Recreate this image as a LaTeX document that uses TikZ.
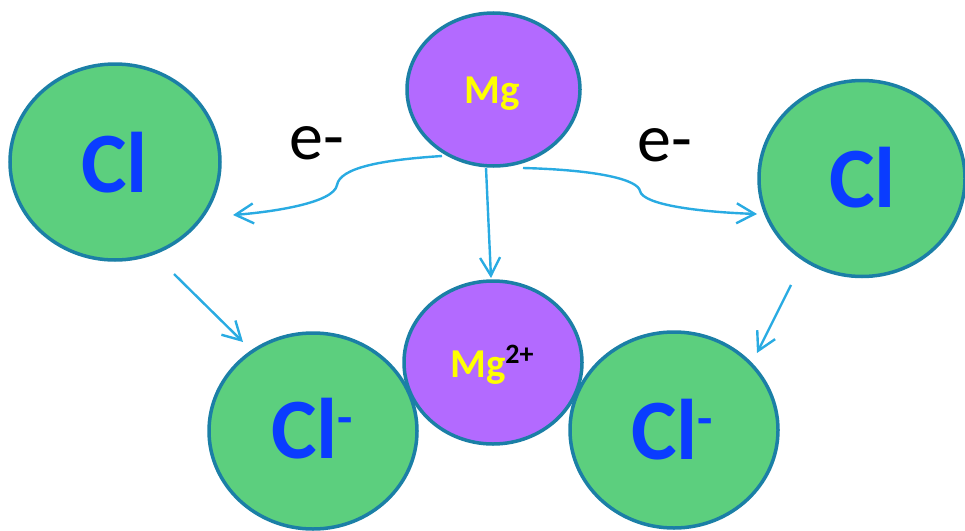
\documentclass[tikz,border=0pt]{standalone}
\usepackage{fontspec}
\setmainfont{Carlito}
\usetikzlibrary{arrows.meta,shapes.geometric}

\definecolor{atomgreen}{HTML}{5CCF7E}
\definecolor{atompurple}{HTML}{B36AFF}
\definecolor{atomrim}{HTML}{1B7FA6}
\definecolor{clblue}{HTML}{0A3CFF}
\definecolor{mgyellow}{HTML}{FFFF00}
\definecolor{flowblue}{HTML}{29ABE2}

\tikzset{
  atom/.style={ellipse, draw=atomrim, line width=3.5pt, inner sep=0pt},
  chlorine/.style={atom, fill=atomgreen, minimum width=208pt, minimum height=196pt},
  magnesium/.style={atom, fill=atompurple},
  cltext/.style={anchor=base west, inner sep=0pt, text=clblue,
    font=\fontsize{86}{90}\selectfont\bfseries},
  mgtext/.style={anchor=base west, inner sep=0pt, text=mgyellow,
    font=\fontsize{41}{44}\selectfont\bfseries},
  etext/.style={anchor=base west, inner sep=0pt, text=black,
    font=\fontsize{68}{72}\selectfont},
  flow/.style={draw=flowblue, line width=2.4pt,
    -{Straight Barb[length=18pt,width=20pt]}}
}

\newcommand{\clminus}{Cl\raisebox{24pt}{\fontsize{50}{50}\selectfont -}}

\begin{document}
\begin{tikzpicture}[x=1pt,y=-1pt]
\useasboundingbox (0,0) rectangle (965,530);

% chlorine atoms
\node[chlorine, minimum width=210pt] (cl1) at (115,162) {};
\node[chlorine, minimum width=206pt] (cl2) at (862,178.5) {};

% chloride ions, with the magnesium ion laid over them
\node[chlorine] (cli1) at (313,431) {};
\node[chlorine] (cli2) at (674,430) {};
\node[magnesium, minimum width=178pt, minimum height=163pt] (mgion) at (493,362.5) {};

% magnesium atom
\node[magnesium, minimum width=173pt, minimum height=153pt] (mg) at (493.5,89.5) {};

% labels
\node[cltext] (cl1t) at (81,192) {Cl};
\node[cltext] (cl2t) at (829,207) {Cl};
\node[cltext] (cli1t) at (271,458) {\clminus};
\node[cltext] (cli2t) at (631,459) {\clminus};
\node[mgtext] (mgt) at (464,103) {Mg};
\node[mgtext] (mgiont) at (450,377) {Mg\raisebox{14pt}{\fontsize{28}{28}\selectfont\color{black}2+}};
\node[etext] (e1) at (289,159) {e-};
\node[etext] (e2) at (637,161) {e-};

% arrow end points
\coordinate (a1s) at (442,156);
\coordinate (a1k) at (337,185);
\coordinate (a1e) at (233,215);
\coordinate (a2s) at (523,168);
\coordinate (a2k) at (640,191);
\coordinate (a2e) at (757,214);
\coordinate (a3s) at (486,168);
\coordinate (a3e) at (491,278);
\coordinate (a4s) at (174,274);
\coordinate (a4e) at (243,342);
\coordinate (a5s) at (791,285);
\coordinate (a5e) at (757,353);

% electron transfer
\draw[flow] (a1s) .. controls (380,160) and (340,168) .. (a1k)
            .. controls (334,203) and (272,212) .. (a1e);
\draw[flow] (a2s) .. controls (600,170) and (638,180) .. (a2k)
            .. controls (643,205) and (700,212) .. (a2e);
\draw[flow] (a3s) -- (a3e);
% atoms becoming ions
\draw[flow] (a4s) -- (a4e);
\draw[flow] (a5s) -- (a5e);
\end{tikzpicture}
\end{document}
